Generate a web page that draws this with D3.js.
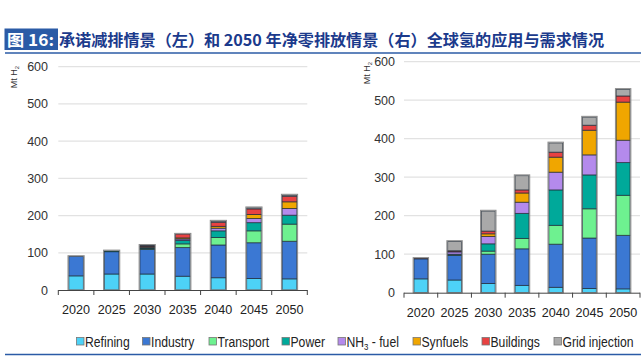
<!DOCTYPE html>
<html><head><meta charset="utf-8">
<script src="https://cdn.jsdelivr.net/npm/d3@7"></script>
<style>
body{margin:0;background:#fff;}
svg{display:block;}
</style></head>
<body>
<svg id="chart" width="641" height="356"></svg>
<script>
const years = ["2020","2025","2030","2035","2040","2045","2050"];
const seriesNames = ["Refining","Industry","Transport","Power","NH3 - fuel","Synfuels","Buildings","Grid injection"];
const colors = ["#4dd2f7","#3b78d3","#6ef190","#00a99a","#b48aec","#f0a600","#e84242","#a9a9a9"];
// Left: Announced pledges scenario
const leftRefining  = [38,43,43,37,33,31,30];
const leftIndustry  = [52,60,66,77,88,96,101];
const leftTransport = [0,1,2,10,20,32,46];
const leftPower     = [0,1,2,9,18,22,24];
const leftNH3       = [0,0,2,4,7,11,18];
const leftSynfuels  = [0,0,2,3,5,11,18];
const leftBuildings = [0,0,2,10,11,15,15];
const leftGrid      = [0,0,1,0,3,3,3];
// Right: Net zero emissions by 2050 scenario
const rightRefining  = [36,33,24,19,14,11,10];
const rightIndustry  = [52,64,76,95,112,131,139];
const rightTransport = [0,1,8,27,49,76,104];
const rightPower     = [0,2,19,65,92,88,85];
const rightNH3       = [0,6,19,29,46,52,58];
const rightSynfuels  = [0,1,7,24,39,64,99];
const rightBuildings = [1,2,7,8,13,13,16];
const rightGrid      = [0,24,52,37,24,21,17];
const yTicks = [0,100,200,300,400,500,600];

const svg = d3.select("#chart");
const font = "'Liberation Sans', Arial, sans-serif";
const cjk = "'Noto Sans CJK SC', sans-serif";

// Title
svg.append("rect").attr("x",4.5).attr("y",28.5).attr("width",53.5).attr("height",21.5).attr("fill","#2b5ba6");
svg.append("text").attr("x",7).attr("y",45.5).attr("fill","#fff")
  .attr("font-family",cjk).attr("font-weight","bold").attr("font-size",16)
  .attr("textLength",47).attr("lengthAdjust","spacingAndGlyphs")
  .text("图 16:");
svg.append("text").attr("x",59).attr("y",45.5).attr("fill","#1b3a8c")
  .attr("font-family",cjk).attr("font-weight","bold").attr("font-size",16)
  .attr("textLength",545).attr("lengthAdjust","spacingAndGlyphs")
  .text("承诺减排情景（左）和 2050 年净零排放情景（右）全球氢的应用与需求情况");
svg.append("line").attr("x1",5).attr("x2",641).attr("y1",53).attr("y2",53).attr("stroke","#2b5ba6").attr("stroke-width",1.5);
svg.append("line").attr("x1",5).attr("x2",641).attr("y1",354.5).attr("y2",354.5).attr("stroke","#2b5ba6").attr("stroke-width",1.5);

function buildRows(arrs){
  return years.map((y,i)=>{
    const r={year:y};
    seriesNames.forEach((s,j)=>r[s]=arrs[j][i]);
    return r;
  });
}

function panel(arrs, x0, x1, y0, y600, labelRight, unitX, unitY, xLabelY){
  const rows = buildRows(arrs);
  const x = d3.scaleBand().domain(years).range([x0,x1]).padding(0);
  const y = d3.scaleLinear().domain([0,600]).range([y0,y600]);
  const g = svg.append("g");
  g.selectAll(".grid").data(yTicks.filter(t=>t>0)).join("line")
    .attr("x1",x0).attr("x2",x1).attr("y1",d=>y(d)).attr("y2",d=>y(d))
    .attr("stroke","#e2e2e2").attr("stroke-width",1.2);
  g.selectAll(".yl").data(yTicks).join("text")
    .attr("x",labelRight).attr("y",d=>y(d)+4.5).attr("text-anchor","end")
    .attr("font-family",font).attr("font-size",12.5).attr("fill","#333").text(d=>d);
  const ut = g.append("text").attr("transform",`translate(${unitX},${unitY}) rotate(-90)`)
    .attr("text-anchor","end").attr("font-family",font).attr("font-size",9).attr("fill","#333");
  ut.append("tspan").text("Mt H");
  ut.append("tspan").attr("font-size",6).attr("dy",2).text("2");
  const stack = d3.stack().keys(seriesNames)(rows);
  const bw = x.bandwidth()*0.41;
  stack.forEach((layer,li)=>{
    g.selectAll(null).data(layer.filter(d=>d[1]-d[0]>0)).join("rect")
      .attr("x",d=>x(d.data.year)+x.bandwidth()/2-bw/2)
      .attr("width",bw)
      .attr("y",d=>y(d[1]))
      .attr("height",d=>y(d[0])-y(d[1]))
      .attr("fill",colors[li])
      .attr("stroke","#1e2a36").attr("stroke-opacity",0.75).attr("stroke-width",0.9);
  });
  g.selectAll(null).data(rows).join("rect")
    .attr("x",d=>x(d.year)+x.bandwidth()/2-bw/2-0.8)
    .attr("width",bw+1.6)
    .attr("y",d=>y(d3.sum(seriesNames,s=>d[s]))-0.8)
    .attr("height",d=>y(0)-y(d3.sum(seriesNames,s=>d[s]))+0.8)
    .attr("fill","none").attr("stroke","#8a8a8a").attr("stroke-width",1);
  g.append("line").attr("x1",x0).attr("x2",x1).attr("y1",y0+0.5).attr("y2",y0+0.5).attr("stroke","#444").attr("stroke-width",1);
  const bounds = years.map(d=>x(d)).concat([x1]);
  g.selectAll(null).data(bounds).join("line")
    .attr("x1",d=>d).attr("x2",d=>d).attr("y1",y0).attr("y2",y0+5).attr("stroke","#444");
  g.selectAll(null).data(years).join("text")
    .attr("x",d=>x(d)+x.bandwidth()/2).attr("y",xLabelY).attr("text-anchor","middle")
    .attr("font-family",font).attr("font-size",12.5).attr("fill","#222")
    .attr("textLength",28).attr("lengthAdjust","spacingAndGlyphs").text(d=>d);
}

panel([leftRefining,leftIndustry,leftTransport,leftPower,leftNH3,leftSynfuels,leftBuildings,leftGrid],
  58.3, 307.3, 290, 66.7, 48, 17, 66, 314);
panel([rightRefining,rightIndustry,rightTransport,rightPower,rightNH3,rightSynfuels,rightBuildings,rightGrid],
  404, 640, 292.7, 61.7, 395, 370, 62, 317);

// Legend
const legendX = [76.5,142.5,209,282,338,413,482,554];
const lg = svg.append("g");
seriesNames.forEach((s,i)=>{
  lg.append("rect").attr("x",legendX[i]).attr("y",337.5).attr("width",7.5).attr("height",7.5)
    .attr("fill",colors[i]).attr("stroke","#777").attr("stroke-width",0.8);
  const t = lg.append("text").attr("transform",`translate(${legendX[i]+8.5},346.5) scale(0.87,1)`)
    .attr("font-family",font).attr("font-size",14).attr("fill","#222");
  if(s==="NH3 - fuel"){
    t.append("tspan").text("NH");
    t.append("tspan").attr("font-size",9).attr("dy",3).text("3");
    t.append("tspan").attr("dy",-3).text(" - fuel");
  } else t.text(s);
});
</script>
</body></html>
